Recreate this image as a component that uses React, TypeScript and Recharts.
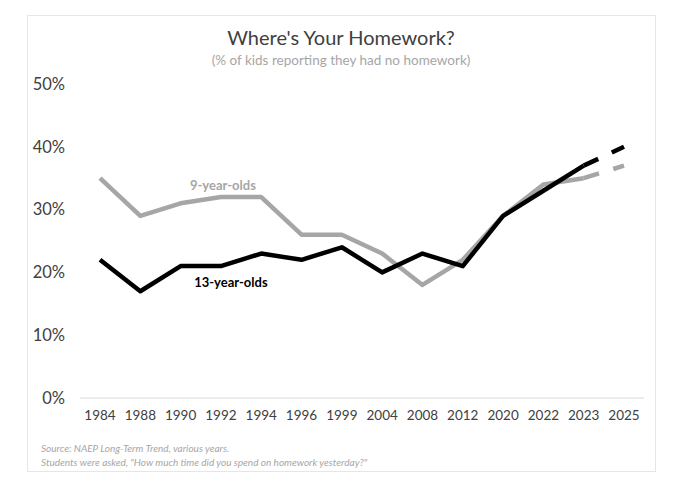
import React from 'react';
import { LineChart, Line, XAxis, YAxis, LabelList } from 'recharts';

// survey years on the x axis
const YEARS = ['1984', '1988', '1990', '1992', '1994', '1996', '1999', '2004', '2008', '2012', '2020', '2022', '2023', '2025'];

// % of kids reporting no homework
const NINE_YEAR_OLDS = [35, 29, 31, 32, 32, 26, 26, 23, 18, 22, 29, 34, 35, 37];
const THIRTEEN_YEAR_OLDS = [22, 17, 21, 21, 23, 22, 24, 20, 23, 21, 29, 33, 37, 40];

const Y_TICKS = [0, 10, 20, 30, 40, 50];

// the last segment (2023 -> 2025) is drawn dashed
const LAST_ACTUAL = '2023';

const data = YEARS.map((year, i) => {
  const isProjected = year === '2025';
  const onDash = year === LAST_ACTUAL || isProjected;
  return {
    year,
    nine: isProjected ? null : NINE_YEAR_OLDS[i],
    thirteen: isProjected ? null : THIRTEEN_YEAR_OLDS[i],
    nineDash: onDash ? NINE_YEAR_OLDS[i] : null,
    thirteenDash: onDash ? THIRTEEN_YEAR_OLDS[i] : null,
  };
});

const FONT = 'Lato, "Open Sans", sans-serif';
const GRAY = '#a6a6a6';
const DARK = '#404040';

const seriesLabel = (text: string, color: string, dx: number, dy: number) => (props: any) => {
  if (props.index !== 3) return null;
  return (
    <text
      x={props.x + dx}
      y={props.y + dy}
      textAnchor="middle"
      dominantBaseline="central"
      fill={color}
      fontFamily={FONT}
      fontWeight={700}
      fontSize={13}
    >
      {text}
    </text>
  );
};

export default function App() {
  return (
    <div style={{ position: 'absolute', left: 0, top: 0, width: 680, height: 486, background: '#fff', fontFamily: FONT }}>
      <div
        style={{
          position: 'absolute',
          left: 27,
          top: 15,
          width: 627,
          height: 455,
          border: '1px solid #e6e6e6',
        }}
      />
      <div style={{ position: 'absolute', left: 27, width: 628, top: 26, textAlign: 'center', fontSize: 20, lineHeight: '22px', color: DARK }}>
        Where's Your Homework?
      </div>
      <div style={{ position: 'absolute', left: 27, width: 628, top: 52, textAlign: 'center', fontSize: 13.5, lineHeight: '16px', color: GRAY }}>
        (% of kids reporting they had no homework)
      </div>

      <div style={{ position: 'absolute', left: 0, top: 0 }}>
        <LineChart width={680} height={486} data={data} margin={{ top: 84, right: 36, bottom: 58, left: 20 }}>
          <XAxis
            dataKey="year"
            interval={0}
            height={30}
            padding={{ left: 20, right: 20 }}
            tickLine={false}
            tickSize={0}
            tickMargin={12}
            axisLine={{ stroke: '#d9d9d9', strokeWidth: 1 }}
            tick={{ fontSize: 13.5, fill: DARK, fontFamily: FONT }}
          />
          <YAxis
            width={60}
            domain={[0, 50]}
            ticks={Y_TICKS}
            tickFormatter={(v) => `${v}%`}
            axisLine={false}
            tickLine={false}
            tickSize={0}
            tickMargin={15}
            tick={{ fontSize: 16.5, fill: DARK, fontFamily: FONT }}
          />

          <Line dataKey="nine" stroke={GRAY} strokeWidth={4.5} dot={false} isAnimationActive={false} strokeLinejoin="round">
            <LabelList dataKey="nine" content={seriesLabel('9-year-olds', GRAY, 2, -12)} />
          </Line>
          <Line dataKey="nineDash" stroke={GRAY} strokeWidth={4.5} strokeDasharray="16 15" dot={false} isAnimationActive={false} />

          <Line dataKey="thirteen" stroke="#000" strokeWidth={4.5} dot={false} isAnimationActive={false} strokeLinejoin="round">
            <LabelList dataKey="thirteen" content={seriesLabel('13-year-olds', '#000', 10, 16)} />
          </Line>
          <Line dataKey="thirteenDash" stroke="#000" strokeWidth={4.5} strokeDasharray="16 15" dot={false} isAnimationActive={false} />
        </LineChart>
      </div>

      <div style={{ position: 'absolute', left: 41, top: 441, fontSize: 10, lineHeight: '14px', fontStyle: 'italic', color: GRAY }}>
        Source: NAEP Long-Term Trend, various years.
        <br />
        Students were asked, "How much time did you spend on homework yesterday?"
      </div>
    </div>
  );
}
